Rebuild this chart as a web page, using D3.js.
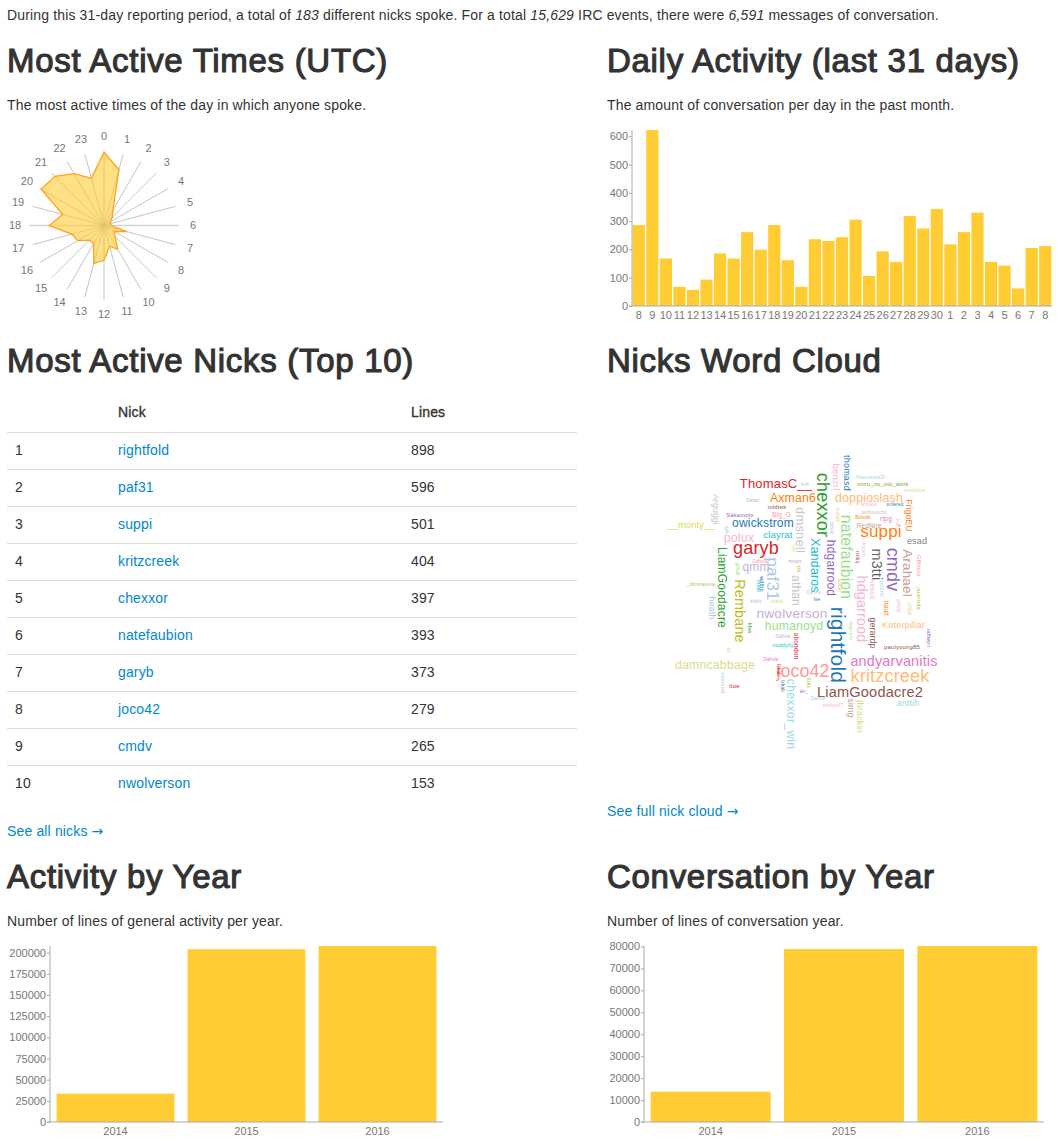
<!DOCTYPE html>
<html>
<head>
<meta charset="utf-8">
<title>IRC stats</title>
<script src="https://cdn.jsdelivr.net/npm/d3@7"></script>
<style>
    html, body { margin: 0; padding: 0; background: #fff; overflow: hidden; }
    svg { display: block; font-family: 'Liberation Sans', Arial, sans-serif; }
    .copy { font-size: 14px; fill: #333; letter-spacing: 0.15px; }
    .heading { font-size: 33px; fill: #333; stroke: #333; stroke-width: 1.1px; letter-spacing: 0.7px; }
    .strong { stroke: #333; stroke-width: 0.35px; }
    .link { font-size: 14px; fill: #0088cc; letter-spacing: 0.15px; }
    .arrow { font-family: 'DejaVu Sans'; }
    .cloud text { letter-spacing: 0.18px; }
    .axis text, .spoke-label { font-size: 11px; fill: #777; }
    .axis path, .axis line { stroke: #aaa; }
</style>
</head>
<body>
<svg id="page" width="1059" height="1141"></svg>
<script>
const hours = d3.range(24).map(String);
const hourValues = [99, 78, 24, 16, 10, 9, 10, 32, 16, 21, 37, 29, 47, 53, 28, 28, 41, 45, 74, 58, 98, 94, 81, 66];

const dayLabels = ['8', '9', '10', '11', '12', '13', '14', '15', '16', '17', '18', '19', '20', '21', '22', '23', '24', '25', '26', '27', '28', '29', '30', '1', '2', '3', '4', '5', '6', '7', '8'];
const dayValues = [286, 622, 168, 68, 57, 93, 186, 168, 261, 199, 286, 162, 68, 236, 230, 243, 305, 106, 193, 156, 318, 274, 343, 218, 261, 330, 156, 143, 62, 205, 212];

const topNicks = ['rightfold', 'paf31', 'suppi', 'kritzcreek', 'chexxor', 'natefaubion', 'garyb', 'joco42', 'cmdv', 'nwolverson'];
const topLines = [898, 596, 501, 404, 397, 393, 373, 279, 265, 153];

const years = ['2014', '2015', '2016'];
const activityByYear = [33400, 204000, 207800];
const conversationByYear = [13800, 78800, 80200];

// word cloud: nick and estimated weight
const cloudWords = ['ThomasC__', 'Axman6', 'doppioslash', 'NemesisD', 'mizu_no_oto_work', 'mniclus', 'suppi', 'esad', 'RedNire', 'telbsochi', 'rtpg', 'falhsker', 'ordered', 'Belsikk', 'owickstrom', 'Sakamoto', 'mldtek', 'Big_G', 'Dabac', '__monty__', 'polux', 'clayrat', 'garyb', 'qmm', 'Dahsle', 'rvion', 'nwolverson', 'humanoyd', 'Dahsle', 'muddyfiy', 'damncabbage', 'joco42', 'Dahsle', 'ltoe', 'ier_', 'lse', 'Dahsle', 'kfahc', 'kfahd', '_dmvianna', 'paulyoung85', 'Koterpillar', 'andyarvanitis', 'kritzcreek', 'LiamGoodacre2', 'anttih', 'timbod7', 'Dahsle', 'bvb',
    'chexxor', 'thomasd', 'benzrl', 'natefaubion', 'dmsnell', 'Xandaros', 'hdgarrood', 'hdgarrood', 'm3tti', 'cmdv', 'Arahael', 'FrigoEU', 'Arguggi', 'Rembane', 'LiamGoodacre', 'heath', 'athan', 'paf31', 'rightfold', 'chexxor_win', 'gerardp', 'simg', 'jbracker', 'hault', 'jacereda', 'marmik', 'neko0', 'pbzrst', 'ndtwyn', 'GBHobz', 'abondon', 'kfea', 'cabured', 'wdfhb', 'lnfab', 'fzhab', 'lzhab', 'ilzhs', 'rznbq', 'ksb', 'ksam', 'dzhab', 'mzhab', 'azh', 'gzhab', 'yzh', 'tzh', 'pzhab', 'szhab', 'uzhab', 'lu'];
const cloudWeights = [205, 175, 179, 11, 9, 11, 424, 65, 17, 11, 17, 1, 1, 1, 163, 9, 11, 17, 1, 73, 183, 78, 493, 163, 1, 7, 238, 171, 1, 3, 175, 471, 1, 11, 1, 1, 1, 1, 1, 7, 11, 67, 273, 493, 283, 65, 7, 1, 1,
    493, 65, 78, 350, 205, 179, 163, 269, 269, 493, 228, 53, 53, 269, 163, 60, 163, 424, 724, 175, 57, 60, 65, 17, 7, 7, 24, 7, 7, 7, 17, 3, 7, 7, 3, 1, 1, 1, 1, 1, 7, 1, 1, 1, 1, 1, 1, 1, 1, 1, 3];
const cloudColors = ['#d62728', '#ff7f0e', '#ffbb78', '#9edae5', '#7f9f1f', '#dbdb8d', '#ff7f0e', '#7f7f7f', '#c49c94', '#c7c7c7', '#e377c2', '#f7b6d2', '#1f77b4', '#ff7f0e', '#1f77b4', '#9467bd', '#8c564b', '#ff9896', '#c5b0d5', '#d9d94a', '#f7b6d2', '#17becf', '#d62728', '#c5b0d5', '#ff9896', '#c49c94', '#c5b0d5', '#98df8a', '#c5b0d5', '#17becf', '#dbdb8d', '#ff9896', '#e377c2', '#d62728', '#9467bd', '#1f77b4', '#c7c7c7', '#c5b0d5', '#dbdb8d', '#9ccc5a', '#8c564b', '#ffbb78', '#e377c2', '#ffbb78', '#8c564b', '#9edae5', '#f7b6d2', '#9edae5', '#aec7e8',
    '#2ca02c', '#1f77b4', '#f7b6d2', '#98df8a', '#c7c7c7', '#17becf', '#9467bd', '#f7b6d2', '#666666', '#9467bd', '#c49c94', '#ff7f0e', '#c7c7c7', '#bcbd22', '#2ca02c', '#aec7e8', '#c7c7c7', '#aec7e8', '#1f77b4', '#9edae5', '#8c564b', '#c49c94', '#dbdb8d', '#ff7f0e', '#bcbd22', '#98df8a', '#f7b6d2', '#aec7e8', '#9467bd', '#ff9896', '#d62728', '#2ca02c', '#aec7e8', '#1f77b4', '#17becf', '#d62728', '#1f77b4', '#bcbd22', '#8c564b', '#f7b6d2', '#f7b6d2', '#c7c7c7', '#dbdb8d', '#aec7e8', '#98df8a', '#dbdb8d', '#bcbd22', '#f7b6d2', '#dbdb8d', '#ffbb78', '#ffbb78'];
// where the layout put each word, in cloud units from its corner, [across, down, turned]
const cloudLayout = [[108, 30, 0], [125, 44, 0], [201, 44, 0], [202.5, 21, 0], [215, 27.7, 0], [247, 34, 0], [213, 79, 0], [249, 86, 0], [201, 69.7, 0], [206, 56, 0], [218, 63, 0], [201, 48, 0], [227, 48, 0], [195, 61, 0], [95, 69, 0], [72, 58.7, 0], [109, 51, 0], [113.5, 58.7, 0], [85, 44, 0], [23, 70, 0], [71, 84, 0], [110, 80, 0], [88, 96, 0], [88, 113, 0], [92, 105, 0], [127, 105, 0], [124, 160, 0], [126, 172, 0], [115, 180, 0], [115, 189, 0], [47, 211, 0], [135, 219, 0], [103, 203, 0], [66.5, 230, 0], [136, 235, 0], [149, 143, 0], [146, 136, 0], [88, 145, 0], [109, 145, 0], [32.5, 128, 0], [234, 190.7, 0], [235.5, 169.7, 0], [226, 207.7, 0], [222, 224, 0], [202, 238.7, 0], [240, 247.7, 0], [165, 249, 0], [150, 242, 0], [137, 28, 0],
    [148.7, 47, 90], [176, 15, 90], [165, 19, 90], [173, 99, 90], [128, 72, 90], [143, 107.5, 90], [159, 110, 90], [189, 151, 90], [204, 106.5, 90], [219, 111.5, 90], [235, 115, 90], [237.5, 57.5, 90], [45, 51.5, 90], [67, 153, 90], [50, 129.5, 90], [41, 150, 90], [124, 132.5, 90], [99, 121, 90], [163, 187, 90], [119, 256, 90], [202, 175, 90], [180, 250, 90], [189, 259, 90], [216, 150.5, 90], [249, 140.5, 90], [181, 172.5, 90], [202, 131.5, 90], [212, 131, 90], [259, 180, 90], [249, 108, 90], [125.5, 188, 90], [80, 170, 90], [53, 225, 90], [92, 126, 90], [89, 128, 90], [109, 212, 90], [113, 228, 90], [139, 225, 90], [188, 99, 90], [228, 65, 90], [194, 92, 90], [162, 70, 90], [168, 57, 90], [57, 72, 90], [68, 111, 90], [124, 90, 90], [129, 111, 90], [229, 148, 90], [240, 151, 90], [170, 127, 90], [59, 192, 90]];

const gold = '#ffcc33';
const svg = d3.select('#page');

// page copy
function copyLine(x, y, text) {
    return svg.append('text').attr('class', 'copy').attr('x', x).attr('y', y).text(text);
}
function heading(x, y, text) {
    svg.append('text').attr('class', 'heading').attr('x', x).attr('y', y).text(text);
}
function linkLine(x, y, text) {
    var line = svg.append('text').attr('class', 'link').attr('x', x).attr('y', y).text(text + ' ');
    line.append('tspan').attr('class', 'arrow').text('→');
}

var intro = copyLine(7, 20, 'During this 31-day reporting period, a total of ');
intro.append('tspan').attr('font-style', 'italic').text('183');
intro.append('tspan').text(' different nicks spoke. For a total ');
intro.append('tspan').attr('font-style', 'italic').text('15,629');
intro.append('tspan').text(' IRC events, there were ');
intro.append('tspan').attr('font-style', 'italic').text('6,591');
intro.append('tspan').text(' messages of conversation.');

heading(7, 72, 'Most Active Times (UTC)');
copyLine(7, 110, 'The most active times of the day in which anyone spoke.');
heading(607, 72, 'Daily Activity (last 31 days)');
copyLine(607, 110, 'The amount of conversation per day in the past month.');
heading(7, 372, 'Most Active Nicks (Top 10)');
heading(607, 372, 'Nicks Word Cloud');
heading(7, 888, 'Activity by Year');
copyLine(7, 926, 'Number of lines of general activity per year.');
heading(607, 888, 'Conversation by Year');
copyLine(607, 926, 'Number of lines of conversation year.');

// radar
function renderRadar(cx, cy, radius) {
    const g = svg.append('g').attr('transform', 'translate(' + cx + ', ' + cy + ')');
    const angle = d3.scalePoint().domain(hours).range([0, 2 * Math.PI * 23 / 24]);
    const r = d3.scaleLinear().domain([0, 100]).range([0, radius]);

    g.selectAll('line.spoke')
        .data(hours)
        .enter()
        .append('line')
        .attr('class', 'spoke')
        .attr('x2', (d) => radius * Math.sin(angle(d)))
        .attr('y2', (d) => -radius * Math.cos(angle(d)))
        .attr('stroke', (d) => (+d % 6 == 0 ? '#d4d4d4' : '#aaa'))
        .attr('stroke-width', (d) => (+d % 6 == 0 ? 1.5 : 0.7));

    g.append('path')
        .datum(hourValues)
        .attr('d', d3.lineRadial()
            .angle((d, i) => angle(hours[i]))
            .radius((d) => r(d))
            .curve(d3.curveLinearClosed))
        .attr('fill', gold)
        .attr('fill-opacity', 0.6)
        .attr('stroke', '#ffa31a')
        .attr('stroke-width', 1.3);

    g.selectAll('text')
        .data(hours)
        .enter()
        .append('text')
        .attr('class', 'spoke-label')
        .attr('x', (d) => (radius + 15) * Math.sin(angle(d)))
        .attr('y', (d) => -(radius + 15) * Math.cos(angle(d)))
        .attr('dy', '.35em')
        .attr('text-anchor', 'middle')
        .text((d) => d);
}

// bar chart shared by the daily and yearly panels
function renderBars(labels, values, box, ticks) {
    const keys = labels.map((d, i) => i);
    const x = d3.scaleBand().domain(keys).range([box.left, box.right]).paddingInner(0.1).paddingOuter(0.05);
    const y = d3.scaleLinear().domain([0, d3.max(values)]).range([box.bottom, box.top]);
    const g = svg.append('g');

    g.selectAll('rect')
        .data(values)
        .enter()
        .append('rect')
        .attr('x', (d, i) => x(i))
        .attr('y', (d) => y(d))
        .attr('width', x.bandwidth())
        .attr('height', (d) => box.bottom - y(d))
        .attr('fill', gold);

    g.append('g')
        .attr('class', 'axis')
        .attr('transform', 'translate(0, ' + box.bottom + ')')
        .call(d3.axisBottom(x).tickSize(0).tickPadding(5).tickFormat((i) => labels[i]))
        .select('.domain').attr('d', 'M' + (box.left - 3) + ',0H' + box.right);

    g.append('g')
        .attr('class', 'axis')
        .attr('transform', 'translate(' + box.left + ', 0)')
        .call(d3.axisLeft(y).tickValues(ticks).tickFormat(d3.format('d')).tickSize(3).tickPadding(1))
        .select('.domain').attr('d', 'M0,' + box.top + 'V' + (box.bottom + 0.5));
}

// nick table
function renderTable() {
    const rowY = d3.scaleLinear().domain([0, 10]).range([432, 802]);
    const g = svg.append('g');

    g.append('text').attr('class', 'copy strong').attr('x', 118).attr('y', 417).text('Nick');
    g.append('text').attr('class', 'copy strong').attr('x', 411).attr('y', 417).text('Lines');

    g.selectAll('line')
        .data(d3.range(10))
        .enter()
        .append('line')
        .attr('x1', 7)
        .attr('x2', 577)
        .attr('y1', (d) => rowY(d) + 0.5)
        .attr('y2', (d) => rowY(d) + 0.5)
        .attr('stroke', '#ddd');

    const rows = g.selectAll('g.row')
        .data(topNicks)
        .enter()
        .append('g')
        .attr('class', 'row')
        .attr('transform', (d, i) => 'translate(0, ' + (rowY(i) + 23) + ')');
    rows.append('text').attr('class', 'copy').attr('x', 15).text((d, i) => i + 1);
    rows.append('text').attr('class', 'link').attr('x', 118).text((d) => d);
    rows.append('text').attr('class', 'copy').attr('x', 411).text((d, i) => topLines[i]);

    linkLine(7, 836, 'See all nicks');
}

// nick cloud
function renderCloud(left, top) {
    const size = d3.scaleSqrt().domain([1, 900]).range([4.5, 23]);
    const cloudX = d3.scaleLinear().domain([0, 300]).range([left, left + 300]);
    const cloudY = d3.scaleLinear().domain([0, 300]).range([top, top + 300]);

    svg.append('g')
        .attr('class', 'cloud')
        .selectAll('text')
        .data(cloudWords)
        .enter()
        .append('text')
        .attr('text-anchor', 'middle')
        .attr('font-size', (d, i) => size(cloudWeights[i]) + 'px')
        .attr('fill', (d, i) => cloudColors[i])
        .attr('transform', (d, i) => 'translate(' + cloudX(cloudLayout[i][0]) + ', ' + cloudY(cloudLayout[i][1]) + ') rotate(' + cloudLayout[i][2] + ')')
        .text((d) => d);

    linkLine(607, 816, 'See full nick cloud');
}

renderRadar(104, 225.5, 74);
renderBars(dayLabels, dayValues, { left: 632, right: 1052, top: 130, bottom: 306 }, [0, 100, 200, 300, 400, 500, 600]);
renderTable();
renderCloud(668, 458);
renderBars(years, activityByYear, { left: 50, right: 443, top: 946, bottom: 1122 }, d3.range(0, 200001, 25000));
renderBars(years, conversationByYear, { left: 644, right: 1044, top: 946, bottom: 1122 }, d3.range(0, 80001, 10000));
</script>
</body>
</html>
